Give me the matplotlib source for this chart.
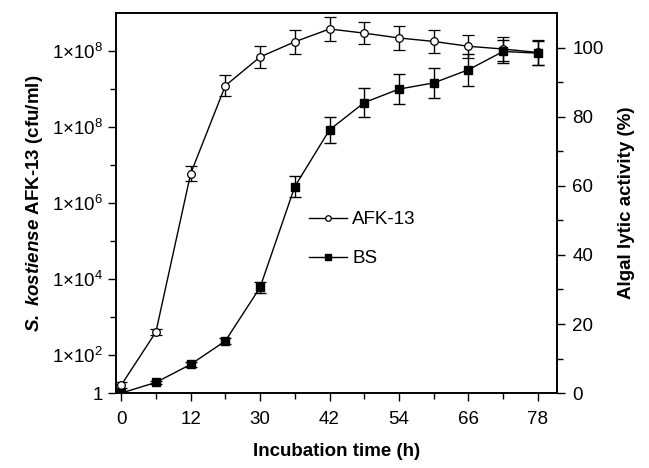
import numpy as np
import matplotlib
matplotlib.use("Agg")
import matplotlib.pyplot as plt
from matplotlib.lines import Line2D

plt.rcParams['font.family'] = ['Liberation Sans', 'DejaVu Sans']
plt.rcParams['mathtext.fontset'] = 'custom'
plt.rcParams['mathtext.rm'] = 'Liberation Sans'
plt.rcParams['mathtext.it'] = 'Liberation Sans:italic'
plt.rcParams['mathtext.bf'] = 'Liberation Sans:bold'
try:
    plt.rcParams['mathtext.bfit'] = 'Liberation Sans:bold:italic'
except KeyError:
    pass

# Data (x = sampling index; tick labels as printed)
x_idx = list(range(13))
x_tick_labels = ['0', '12', '30', '42', '54', '66', '78']
afk = [2.3, 17.7, 63.5, 89.0, 97.3, 101.7, 105.4, 104.2, 102.8, 101.8, 100.4, 99.6, 98.6]
afk_err = [0.8, 1.0, 2.2, 3.0, 3.2, 3.4, 3.6, 3.2, 3.4, 3.4, 3.4, 3.4, 3.5]
bs = [0.0, 3.1, 8.3, 15.1, 30.6, 59.8, 76.2, 84.1, 88.0, 89.8, 93.6, 98.9, 98.4]
bs_err = [0.5, 0.5, 0.8, 0.8, 1.5, 3.0, 3.7, 4.1, 4.4, 4.4, 4.7, 3.3, 3.5]
left_tick_labels = ['1', r'1×10$^{2}$', r'1×10$^{4}$', r'1×10$^{6}$', r'1×10$^{8}$', r'1×10$^{8}$']
right_ticks = [0, 20, 40, 60, 80, 100]

fig = plt.figure(figsize=(6.49, 4.68), dpi=100)
ax = fig.add_axes([0.1787, 0.160, 0.6795, 0.812])
ax2 = ax.twinx()

ax.errorbar(x_idx, afk, yerr=afk_err, color='black', marker='o', markersize=5.5,
            markerfacecolor='white', markeredgecolor='black', markeredgewidth=0.9,
            linewidth=1.0, elinewidth=1.0, capsize=4, capthick=1.0, zorder=3)
ax.errorbar(x_idx, bs, yerr=bs_err, color='black', marker='s', markersize=5.5,
            markerfacecolor='black', markeredgecolor='black',
            linewidth=1.0, elinewidth=1.0, capsize=4, capthick=1.0, zorder=3)

ylim = (0, 110)
ax.set_ylim(*ylim)
ax2.set_ylim(*ylim)
ax.set_xlim(-0.15, 12.55)

# left axis (cfu)
ax.set_yticks([0, 11, 33, 55, 77, 99])
ax.set_yticklabels(left_tick_labels)
ax.set_yticks([22, 44, 66, 88], minor=True)
# right axis (%)
ax2.set_yticks(right_ticks)
ax2.set_yticks([10, 30, 50, 70, 90], minor=True)
# x axis
ax.set_xticks(x_idx[::2])
ax.set_xticklabels(x_tick_labels)
ax.set_xticks(x_idx[1::2], minor=True)

for a in (ax, ax2):
    a.tick_params(which='major', direction='out', length=6, width=1.0, labelsize=13.5)
    a.tick_params(which='minor', direction='out', length=4, width=1.0)
    for s in a.spines.values():
        s.set_linewidth(1.2)
ax.tick_params(axis='x', pad=7)
ax.tick_params(axis='y', pad=3)
ax2.tick_params(axis='y', pad=5)

ax.set_xlabel('Incubation time (h)', fontsize=13.5, fontweight='bold', labelpad=11)
try:
    ax.set_ylabel(r'$\mathbfit{S.\ kostiense}$ AFK-13 (cfu/ml)', fontsize=13.5, fontweight='bold', labelpad=5)
    fig.canvas.draw()
except Exception:
    ax.set_ylabel('S. kostiense AFK-13 (cfu/ml)', fontsize=13.5, fontweight='bold', labelpad=5)
ax2.set_ylabel('Algal lytic activity (%)', fontsize=13.5, fontweight='bold', labelpad=10)

handles = [
    Line2D([], [], color='black', lw=1.0, marker='o', markersize=4, markerfacecolor='white',
           markeredgecolor='black', markeredgewidth=0.9),
    Line2D([], [], color='black', lw=1.0, marker='s', markersize=4, markerfacecolor='black'),
]
ax.legend(handles, ['AFK-13', 'BS'], loc='center left', bbox_to_anchor=(0.40, 0.405),
          frameon=False, fontsize=13.5, handlelength=2.0, handletextpad=0.3,
          labelspacing=1.15, numpoints=1)

fig.savefig('out.png', dpi=100)
